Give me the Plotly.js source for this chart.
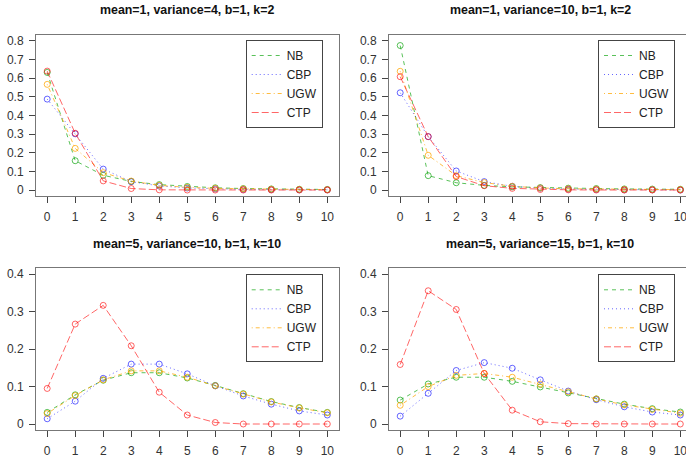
<!DOCTYPE html>
<html>
<head>
<meta charset="utf-8">
<script src="https://cdn.plot.ly/plotly-3.0.1.min.js"></script>
<style>
html,body{margin:0;padding:0;overflow:hidden;background:#fff;}
#chart{width:700px;height:457px;}
</style>
</head>
<body>
<div id="chart"></div>
<script>
// ---- data ----
const xVals = [0,1,2,3,4,5,6,7,8,9,10];
const seriesNames = ['NB','CBP','UGW','CTP'];
const panelTitles = [
  'mean=1, variance=4, b=1, k=2',
  'mean=1, variance=10, b=1, k=2',
  'mean=5, variance=10, b=1, k=10',
  'mean=5, variance=15, b=1, k=10'
];

const p1_NB  = [0.630,0.157,0.079,0.046,0.029,0.019,0.012,0.008,0.006,0.004,0.003];
const p1_CBP = [0.487,0.301,0.112,0.045,0.022,0.011,0.006,0.003,0.002,0.001,0.001];
const p1_UGW = [0.566,0.223,0.093,0.048,0.025,0.014,0.009,0.006,0.004,0.003,0.002];
const p1_CTP = [0.637,0.304,0.049,0.008,0.001,0,0,0,0,0,0];

const p2_NB  = [0.774,0.077,0.039,0.025,0.017,0.013,0.010,0.008,0.006,0.005,0.004];
const p2_CBP = [0.521,0.286,0.102,0.045,0.020,0.010,0.005,0.003,0.001,0.001,0.000];
const p2_UGW = [0.636,0.186,0.077,0.040,0.020,0.011,0.007,0.005,0.003,0.002,0.002];
const p2_CTP = [0.607,0.286,0.072,0.023,0.009,0.003,0.001,0,0,0,0];

const p3_NB  = [0.031,0.078,0.117,0.137,0.137,0.123,0.103,0.081,0.060,0.044,0.031];
const p3_CBP = [0.014,0.061,0.122,0.160,0.160,0.134,0.102,0.075,0.053,0.035,0.024];
const p3_UGW = [0.028,0.076,0.118,0.142,0.142,0.125,0.102,0.080,0.059,0.043,0.030];
const p3_CTP = [0.095,0.267,0.317,0.209,0.085,0.024,0.004,0,0,0,0];

const p4_NB  = [0.064,0.107,0.125,0.125,0.114,0.099,0.083,0.067,0.053,0.041,0.032];
const p4_CBP = [0.021,0.082,0.143,0.164,0.149,0.118,0.088,0.065,0.046,0.032,0.024];
const p4_UGW = [0.050,0.100,0.130,0.135,0.125,0.106,0.086,0.067,0.051,0.039,0.029];
const p4_CTP = [0.159,0.356,0.306,0.135,0.037,0.006,0.001,0,0,0,0];

const panels = [
  [p1_NB,p1_CBP,p1_UGW,p1_CTP],
  [p2_NB,p2_CBP,p2_UGW,p2_CTP],
  [p3_NB,p3_CBP,p3_UGW,p3_CTP],
  [p4_NB,p4_CBP,p4_UGW,p4_CTP]
];
const yMax = [0.8,0.8,0.4,0.4];

// ---- styles ----
const colors = ['rgba(0,160,0,0.65)','rgba(0,0,255,0.6)','rgba(255,165,0,0.75)','rgba(255,0,0,0.6)'];
const dashes = ['4px,4px','1px,3px','1px,3px,4px,3px','7px,3px'];

const W = 700, H = 457;
// pixel boxes [left,right,top,bottom]
const boxes = [
  [36,338.5,34.7,196],
  [389,691.5,34.7,196],
  [36,338.5,268.3,430],
  [389,691.5,268.3,430]
];
const legendBoxes = [[322.7,40],[675,40],[322.7,274.3],[675,274.3]];
const titleY = [10,10,244,244];

const FONT = 'Liberation Sans, Arial, Helvetica, sans-serif';
const traces = [];
const layout = {
  width: W, height: H,
  margin: {l:0,r:0,t:0,b:0},
  paper_bgcolor: '#fff', plot_bgcolor: '#fff',
  font: {family: FONT, size: 12, color: '#333'},
  annotations: [],
  showlegend: true
};

panels.forEach((pdata, pi) => {
  const sfx = pi === 0 ? '' : String(pi+1);
  const legName = 'legend' + sfx;
  pdata.forEach((vals, si) => {
    traces.push({
      type: 'scatter', mode: 'lines+markers',
      x: xVals, y: vals, name: seriesNames[si],
      xaxis: 'x' + sfx, yaxis: 'y' + sfx,
      showlegend: false,
      line: {color: colors[si], width: 1, dash: dashes[si]},
      marker: {symbol: 'circle-open', size: 6, color: colors[si], line: {width: 1, color: colors[si]}}
    });
  });
  // legend entries (line only, like the R legend)
  seriesNames.forEach((nm, si) => {
    traces.push({
      type: 'scatter', mode: 'lines',
      x: [null], y: [null], name: nm,
      xaxis: 'x' + sfx, yaxis: 'y' + sfx,
      legend: legName, showlegend: true,
      line: {color: colors[si], width: 1, dash: dashes[si]}
    });
  });
  const b = boxes[pi];
  const ym = yMax[pi];
  const ext = ym * 0.04;
  layout['xaxis' + sfx] = {
    domain: [b[0]/W, b[1]/W], anchor: 'y' + sfx,
    range: [-0.4, 10.4], tickvals: xVals, ticktext: xVals.map(String),
    ticks: 'outside', ticklen: 6, tickcolor: '#444', tickwidth: 1,
    showline: true, mirror: true, linecolor: '#777', linewidth: 1,
    showgrid: false, zeroline: false, ticklabelstandoff: 4,
    tickfont: {family: FONT, size: 12, color: '#333'}, fixedrange: true
  };
  layout['yaxis' + sfx] = {
    domain: [1 - b[3]/H, 1 - b[2]/H], anchor: 'x' + sfx,
    range: [-ext, ym + ext], tick0: 0, dtick: 0.1,
    ticks: 'outside', ticklen: 6, tickcolor: '#444', tickwidth: 1,
    showline: true, mirror: true, linecolor: '#777', linewidth: 1,
    showgrid: false, zeroline: false, ticklabelstandoff: 3,
    tickfont: {family: FONT, size: 12, color: '#333'}, fixedrange: true
  };
  const lb = legendBoxes[pi];
  layout[legName] = {
    x: lb[0]/W, xanchor: 'right', y: 1 - lb[1]/H, yanchor: 'top',
    bordercolor: '#444', borderwidth: 1, bgcolor: '#fff',
    font: {family: FONT, size: 12, color: '#222'},
    itemwidth: 30, tracegroupgap: 0
  };
  layout.annotations.push({
    xref: 'paper', yref: 'paper', x: (b[0]+b[1])/2/W, y: 1 - titleY[pi]/H,
    xanchor: 'center', yanchor: 'middle', showarrow: false,
    text: panelTitles[pi],
    font: {family: FONT, size: 12.4, color: '#111', weight: 'bold'}
  });
});

Plotly.newPlot('chart', traces, layout, {displayModeBar: false, staticPlot: true});
</script>
</body>
</html>
